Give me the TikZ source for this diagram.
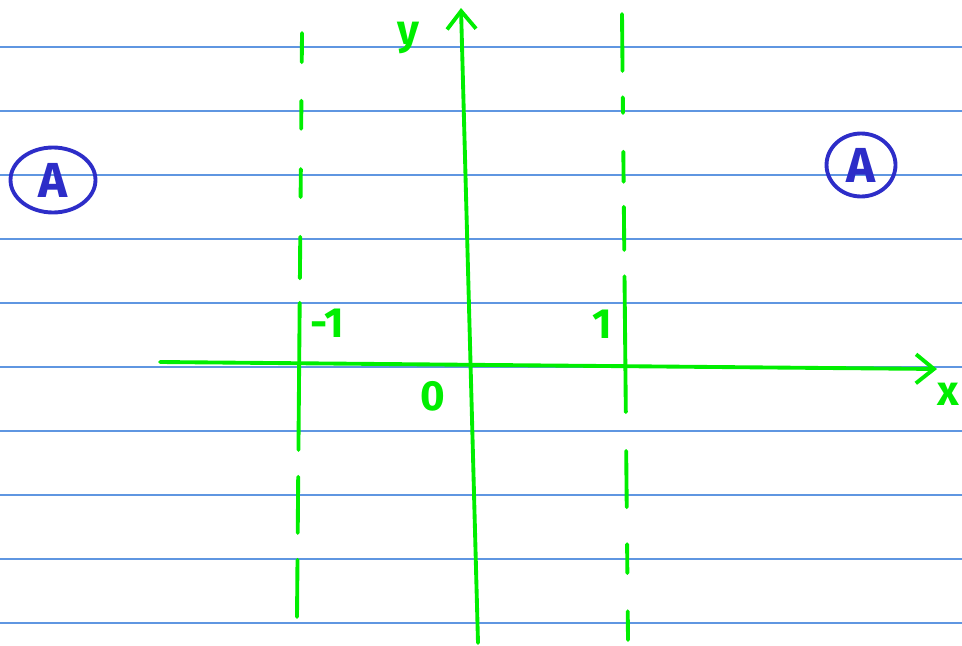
\documentclass[tikz,border=0pt]{standalone}
\usepackage{fontspec}
\setsansfont{Fira Sans}
\usetikzlibrary{arrows.meta,calc,shapes.geometric}
\definecolor{penGreen}{RGB}{0,238,0}
\definecolor{penBlue}{RGB}{45,45,200}
\definecolor{ruleBlue}{RGB}{95,150,225}
\tikzset{
  rule/.style={ruleBlue,line width=0.8pt},
  axis/.style={penGreen,line width=2.2pt,line cap=round,-{Straight Barb[length=0.36cm,width=0.58cm]}},
  asym/.style={penGreen,line width=2.2pt,line cap=round},
  lbl/.style={penGreen,font=\sffamily\bfseries\fontsize{24}{28}\selectfont,inner sep=0pt},
  region/.style={ellipse,draw=penBlue,line width=2.2pt,text=penBlue,inner sep=0pt,
    font=\sffamily\bfseries\fontsize{28}{32}\selectfont}
}
\begin{document}
\begin{tikzpicture}[x=0.02cm,y=-0.02cm]
  \useasboundingbox (0,0) rectangle (962,645);
  % ruled paper
  \foreach \k in {0,...,9}
    \draw[rule] (0,{47+64*\k}) -- (962,{47+64*\k});
  % axes
  \coordinate (xs) at (160,362);
  \coordinate (xe) at (937,369);
  \coordinate (ys) at (478,643);
  \coordinate (ye) at (461,8);
  \draw[axis] (xs) -- (xe);
  \draw[axis] (ys) -- (ye);
  % asymptotes x=-1 and x=1
  \coordinate (la) at (302,33);
  \coordinate (lb) at (297,617);
  \coordinate (ra) at (622,14);
  \coordinate (rb) at (628,640);
  \foreach \s/\e in {0/0.05,0.116/0.164,0.233/0.281,0.349/0.42,0.462/0.714,0.76/0.856,0.902/1}
    \draw[asym] ($(la)!\s!(lb)$) -- ($(la)!\e!(lb)$);
  \foreach \s/\e in {0/0.091,0.133/0.158,0.22/0.268,0.308/0.377,0.419/0.636,0.698/0.788,0.847/0.893,0.954/1}
    \draw[asym] ($(ra)!\s!(rb)$) -- ($(ra)!\e!(rb)$);
  % labels
  \node[lbl] (ylbl) at (408,38) {y};
  \node[lbl] (xlbl) at (948,394) {x};
  \node[lbl] (orig) at (433,396) {0};
  \node[lbl] (mone) at (327,323) {-1};
  \node[lbl] (one) at (602,324) {1};
  % regions
  \node[region,minimum width=1.7cm,minimum height=1.3cm] (regL) at (53,180) {A};
  \node[region,minimum width=1.38cm,minimum height=1.26cm] (regR) at (861,165) {A};
\end{tikzpicture}
\end{document}
